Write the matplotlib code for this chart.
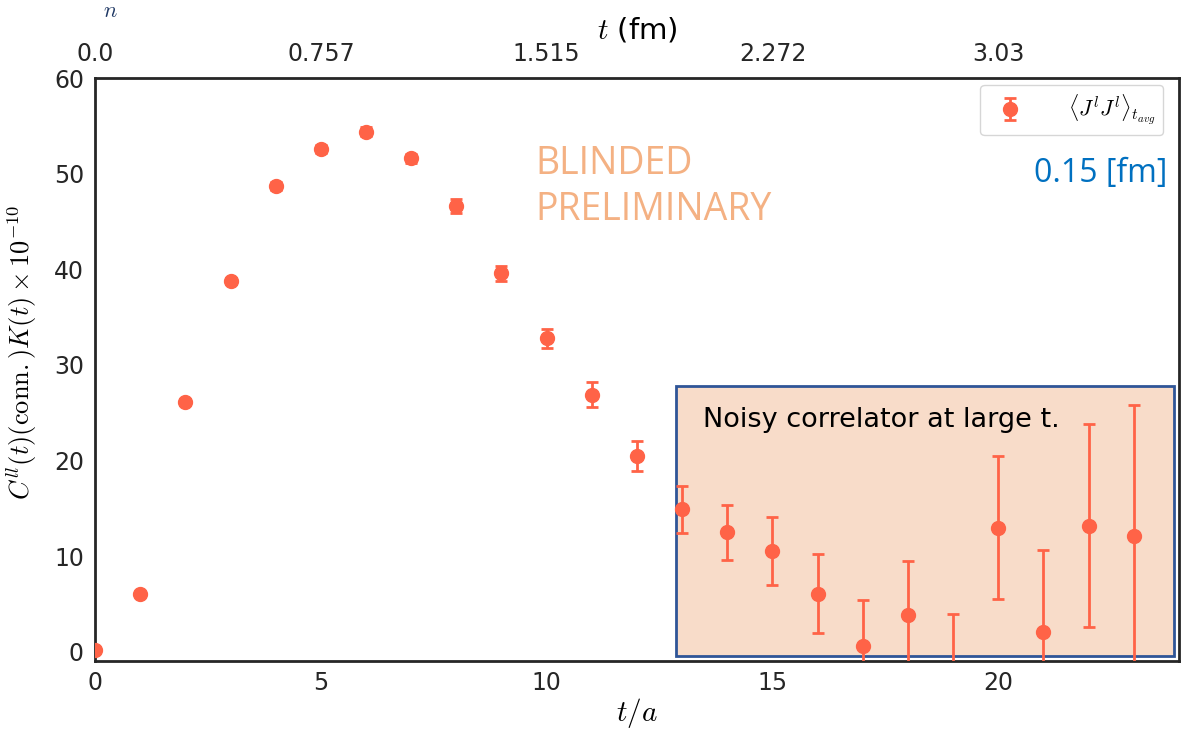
import numpy as np
import matplotlib.pyplot as plt
from matplotlib.patches import Rectangle

plt.rcParams['mathtext.fontset'] = 'cm'

# lattice time slices and correlator values (x 1e-10)
t_a = [0, 1, 2, 3, 4, 5, 6, 7, 8, 9, 10, 11, 12,
       13, 14, 15, 16, 17, 18, 19, 20, 21, 22, 23]
corr = [0.2, 6.1, 26.1, 38.8, 48.7, 52.6, 54.4, 51.6, 46.6, 39.6, 32.8, 26.9, 20.5,
        14.9, 12.5, 10.6, 6.1, 0.6, 3.9, -2.8, 13.0, 2.1, 13.2, 12.1]
corr_err = [0.1, 0.2, 0.3, 0.3, 0.4, 0.4, 0.5, 0.5, 0.7, 0.8, 1.0, 1.3, 1.6,
            2.45, 2.9, 3.55, 4.1, 4.8, 5.6, 6.8, 7.5, 8.6, 10.6, 13.7]

top_ticks = [0, 5, 10, 15, 20]
top_labels = ['0.0', '0.757', '1.515', '2.272', '3.03']

fig = plt.figure(figsize=(11.82, 7.29), dpi=100)
ax = fig.add_axes([0.0804, 0.0933, 0.917, 0.7997])

# highlight box for the noisy region
ax.add_patch(Rectangle((12.86, -0.45), 11.04, 28.25, facecolor='#f8dcc9',
                       edgecolor='#2f5597', linewidth=2, zorder=1))

ax.errorbar(t_a, corr, yerr=corr_err, fmt='o', color='#ff6347', ms=10,
            elinewidth=2, capsize=4, capthick=2, zorder=3,
            label=r'$\langle J^l J^l \rangle_{t_{avg}}$')

ax.set_xlim(0, 24)
ax.set_ylim(-0.94, 60)
ax.set_xticks([0, 5, 10, 15, 20])
ax.set_yticks([0, 10, 20, 30, 40, 50, 60])
ax.tick_params(length=0, labelsize=17, colors='#262626')
ax.tick_params(axis='x', pad=7)
ax.tick_params(axis='y', pad=8)
for s in ax.spines.values():
    s.set_color('#262626')
    s.set_linewidth(2)
ax.set_xlabel(r'$t/a$', fontsize=21, labelpad=1)
ax.set_ylabel(r'$C^{ll}(t)(\mathrm{conn.})K(t)\times10^{-10}$', fontsize=19)
ax.yaxis.set_label_coords(-0.052, 0.53)

top = ax.secondary_xaxis('top')
top.set_xticks(top_ticks)
top.set_xticklabels(top_labels)
top.tick_params(length=0, labelsize=17, colors='#262626', pad=9)
top.set_xlabel(r'$t$ (fm)', fontsize=21, labelpad=2)

leg = ax.legend(loc='upper right', fontsize=16, frameon=True, borderpad=0.35,
                handletextpad=1.6, fancybox=True, bbox_to_anchor=(0.996, 1.007))
leg.get_frame().set_edgecolor('#cccccc')

ax.text(9.75, 48.6, 'BLINDED\nPRELIMINARY', fontsize=27, color='#f4b183',
        family='Open Sans', linespacing=1.3, va='center')
ax.text(23.75, 50.0, '0.15 [fm]', fontsize=23, color='#0070c0',
        family='Open Sans', ha='right', va='center')
ax.text(13.47, 24.2, 'Noisy correlator at large t.', fontsize=19.5,
        color='black', va='center', zorder=4)

fig.text(0.093, 0.999, r'$n$', fontsize=16, color='#1f3864', ha='center', va='top')

fig.savefig('out.png')
